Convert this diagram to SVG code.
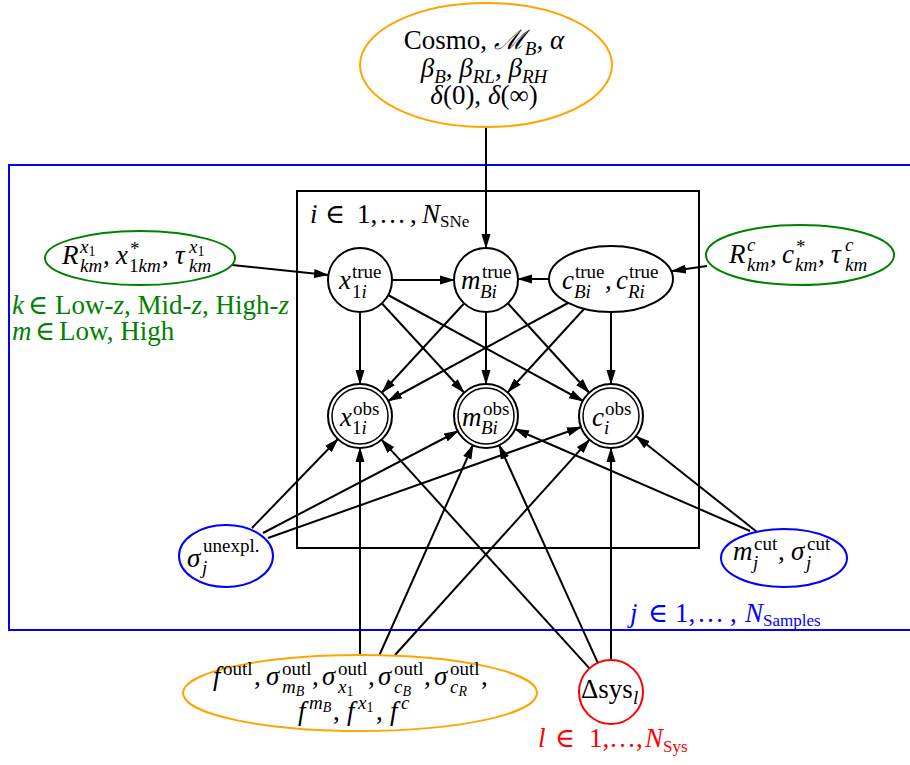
<svg xmlns="http://www.w3.org/2000/svg" width="910" height="765" viewBox="0 0 910 765">
<defs>
<style>
text{font-family:"Liberation Serif","DejaVu Serif",serif;font-size:27px;fill:#000}
.i{font-style:italic}
.s{font-size:19px}
.ss{font-size:14px}
.sp{font-size:17px}
.node{fill:#fff;stroke:#000;stroke-width:2}
.org{fill:#fff;stroke:#ffa500;stroke-width:2}
.grn{fill:#fff;stroke:#008000;stroke-width:2}
.blu{fill:#fff;stroke:#0000ff;stroke-width:2}
.red{fill:#fff;stroke:#ff0000;stroke-width:2}
.edge{stroke:#000;stroke-width:2;fill:none;marker-end:url(#arr)}
.g{fill:#008000}
.b{fill:#0000ff}
.r{fill:#ff0000}
</style>
<marker id="arr" markerWidth="15" markerHeight="10" refX="14" refY="5" orient="auto" markerUnits="userSpaceOnUse">
<path d="M0,0.5 L15,5 L0,9.5 z" fill="#000"/>
</marker>
</defs>
<rect width="910" height="765" fill="#fff"/>

<g id="plate-samples">
<rect x="9" y="165" width="1000" height="465" fill="none" stroke="#0000ff" stroke-width="2"/>
<text class="b" y="622"><tspan x="630" class="i">j</tspan><tspan x="648">∈</tspan><tspan x="675">1,</tspan><tspan x="697">…</tspan><tspan x="730">,</tspan><tspan x="745" class="i">N</tspan><tspan class="sp" dy="4">Samples</tspan></text>
</g>
<g id="plate-sne">
<rect x="297" y="191" width="402" height="357" fill="none" stroke="#000" stroke-width="2"/>
<text y="223"><tspan x="310" class="i">i</tspan><tspan x="325">∈</tspan><tspan x="357">1,</tspan><tspan x="379">…</tspan><tspan x="410">,</tspan><tspan x="422" class="i">N</tspan><tspan class="sp" dy="4">SNe</tspan></text>
</g>

<g id="edges">
<line class="edge" x1="486" y1="127" x2="486" y2="248"/>
<line class="edge" x1="232" y1="265" x2="328" y2="275"/>
<line class="edge" x1="707" y1="266" x2="672" y2="271"/>
<line class="edge" x1="392" y1="280" x2="454" y2="280"/>
<line class="edge" x1="549" y1="279" x2="518" y2="279"/>
<line class="edge" x1="360" y1="312" x2="360" y2="384"/>
<line class="edge" x1="382" y1="303.5" x2="464" y2="392.5"/>
<line class="edge" x1="388" y1="295" x2="583" y2="401"/>
<line class="edge" x1="464" y1="303.5" x2="382" y2="392.5"/>
<line class="edge" x1="486" y1="312" x2="486" y2="384"/>
<line class="edge" x1="508" y1="303.5" x2="589" y2="392.5"/>
<line class="edge" x1="568" y1="303" x2="388" y2="401"/>
<line class="edge" x1="584" y1="309" x2="508" y2="392"/>
<line class="edge" x1="611" y1="312" x2="611" y2="384"/>
<line class="edge" x1="252" y1="528" x2="338" y2="439"/>
<line class="edge" x1="263" y1="533" x2="458" y2="431"/>
<line class="edge" x1="268" y1="538" x2="581" y2="427"/>
<line class="edge" x1="750" y1="531" x2="515" y2="429"/>
<line class="edge" x1="757" y1="532" x2="636" y2="436"/>
<line class="edge" x1="360" y1="655" x2="360" y2="448"/>
<line class="edge" x1="379" y1="656" x2="473" y2="445"/>
<line class="edge" x1="395" y1="655" x2="589.5" y2="439.7"/>
<line class="edge" x1="589.5" y1="668.3" x2="381.5" y2="439.7"/>
<line class="edge" x1="597.8" y1="662.9" x2="499.2" y2="445.1"/>
<line class="edge" x1="611" y1="660" x2="611" y2="448"/>
</g>

<g id="cosmo">
<ellipse class="org" cx="486" cy="65" rx="126" ry="62"/>
<text x="484" y="49" text-anchor="middle">Cosmo, <tspan class="i">ℳ</tspan><tspan class="s i" dy="6">B</tspan><tspan dy="-6">, </tspan><tspan class="i">α</tspan></text>
<text x="484" y="77" text-anchor="middle"><tspan class="i">β</tspan><tspan class="s i" dy="6">B</tspan><tspan dy="-6">, </tspan><tspan class="i">β</tspan><tspan class="s i" dy="6">RL</tspan><tspan dy="-6">, </tspan><tspan class="i">β</tspan><tspan class="s i" dy="6">RH</tspan></text>
<text x="484" y="104" text-anchor="middle"><tspan class="i">δ</tspan>(0), <tspan class="i">δ</tspan>(∞)</text>
</g>

<g id="x1-params">
<ellipse class="grn" cx="140" cy="258" rx="95" ry="27"/>
<text class="i" x="62" y="264">R</text>
<text x="80" y="253"><tspan class="s i">x</tspan><tspan class="ss" dy="3">1</tspan></text>
<text class="s i" x="80" y="272">km</text>
<text x="103" y="264">,</text>
<text class="i" x="116" y="264">x</text>
<text class="s" x="130" y="255">*</text>
<text class="s" x="129" y="272">1<tspan class="i">km</tspan></text>
<text x="162" y="264">,</text>
<text class="i" x="175" y="264">τ</text>
<text x="189" y="253"><tspan class="s i">x</tspan><tspan class="ss" dy="3">1</tspan></text>
<text class="s i" x="189" y="272">km</text>
</g>

<g id="km-legend">
<text class="g" y="314"><tspan x="12" class="i">k</tspan><tspan x="28">∈</tspan><tspan x="55">Low-</tspan><tspan class="i">z</tspan><tspan>, Mid-</tspan><tspan class="i">z</tspan><tspan>, High-</tspan><tspan class="i">z</tspan></text>
<text class="g" y="340"><tspan x="12" class="i">m</tspan><tspan x="35">∈</tspan><tspan x="59">Low, High</tspan></text>
</g>

<g id="c-params">
<ellipse class="grn" cx="800" cy="255" rx="94" ry="30"/>
<text class="i" x="729" y="263">R</text>
<text class="s i" x="747" y="251">c</text>
<text class="s i" x="747" y="271">km</text>
<text x="770" y="263">,</text>
<text class="i" x="782" y="263">c</text>
<text class="s" x="796" y="253">*</text>
<text class="s i" x="795" y="271">km</text>
<text x="818" y="263">,</text>
<text class="i" x="831" y="263">τ</text>
<text class="s i" x="845" y="251">c</text>
<text class="s i" x="845" y="271">km</text>
</g>

<g id="x1-true">
<circle class="node" cx="360" cy="280" r="32"/>
<text class="i" x="339" y="289">x</text>
<text class="s" x="352" y="278">true</text>
<text class="s" x="352" y="298">1<tspan class="i">i</tspan></text>
</g>

<g id="mB-true">
<circle class="node" cx="486" cy="280" r="32"/>
<text class="i" x="461" y="289">m</text>
<text class="s" x="482" y="278">true</text>
<text class="s i" x="480" y="298">Bi</text>
</g>

<g id="c-true">
<ellipse class="node" cx="611" cy="279" rx="62" ry="33"/>
<text class="i" x="562" y="289">c</text>
<text class="s" x="575" y="278">true</text>
<text class="s i" x="574" y="298">Bi</text>
<text x="605" y="289">,</text>
<text class="i" x="616" y="289">c</text>
<text class="s" x="629" y="278">true</text>
<text class="s i" x="628" y="298">Ri</text>
</g>

<g id="x1-obs">
<circle class="node" cx="360" cy="416" r="32"/>
<circle cx="360" cy="416" r="28" fill="none" stroke="#000" stroke-width="1.5"/>
<text class="i" x="340" y="426">x</text>
<text class="s" x="353" y="415">obs</text>
<text class="s" x="352" y="434">1<tspan class="i">i</tspan></text>
</g>

<g id="mB-obs">
<circle class="node" cx="486" cy="416" r="32"/>
<circle cx="486" cy="416" r="28" fill="none" stroke="#000" stroke-width="1.5"/>
<text class="i" x="462" y="426">m</text>
<text class="s" x="483" y="415">obs</text>
<text class="s i" x="481" y="434">Bi</text>
</g>

<g id="c-obs">
<circle class="node" cx="611" cy="416" r="32"/>
<circle cx="611" cy="416" r="28" fill="none" stroke="#000" stroke-width="1.5"/>
<text class="i" x="592" y="426">c</text>
<text class="s" x="605" y="415">obs</text>
<text class="s i" x="604" y="434">i</text>
</g>

<g id="sigma-unexpl">
<ellipse class="blu" cx="226" cy="556" rx="47" ry="31"/>
<text class="i" x="187" y="567">σ</text>
<text class="s" x="203" y="552">unexpl.</text>
<text class="s i" x="202" y="574">j</text>
</g>

<g id="m-cut">
<ellipse class="blu" cx="784" cy="558" rx="63" ry="29"/>
<text class="i" x="733" y="560">m</text>
<text class="s" x="754" y="550">cut</text>
<text class="s i" x="753" y="569">j</text>
<text x="778" y="560">,</text>
<text class="i" x="791" y="560">σ</text>
<text class="s" x="807" y="550">cut</text>
<text class="s i" x="806" y="569">j</text>
</g>

<g id="outlier">
<ellipse class="org" cx="360" cy="693" rx="177" ry="38"/>
<text class="i" x="213" y="685">f</text>
<text class="s" x="223" y="675">outl</text>
<text x="254" y="685">,</text>
<text class="i" x="266" y="685">σ</text>
<text class="s" x="282" y="675">outl</text>
<text x="282" y="693"><tspan class="s i">m</tspan><tspan class="ss i" dy="3">B</tspan></text>
<text x="312" y="685">,</text>
<text class="i" x="322" y="685">σ</text>
<text class="s" x="338" y="675">outl</text>
<text x="338" y="693"><tspan class="s i">x</tspan><tspan class="ss" dy="3">1</tspan></text>
<text x="368" y="685">,</text>
<text class="i" x="378" y="685">σ</text>
<text class="s" x="394" y="675">outl</text>
<text x="394" y="693"><tspan class="s i">c</tspan><tspan class="ss i" dy="3">B</tspan></text>
<text x="424" y="685">,</text>
<text class="i" x="434" y="685">σ</text>
<text class="s" x="450" y="675">outl</text>
<text x="450" y="693"><tspan class="s i">c</tspan><tspan class="ss i" dy="3">R</tspan></text>
<text x="481" y="685">,</text>
<text class="i" x="298" y="720">f</text>
<text x="309" y="709"><tspan class="s i">m</tspan><tspan class="ss i" dy="3">B</tspan></text>
<text x="333" y="720">,</text>
<text class="i" x="347" y="720">f</text>
<text x="358" y="709"><tspan class="s i">x</tspan><tspan class="ss" dy="3">1</tspan></text>
<text x="376" y="720">,</text>
<text class="i" x="390" y="720">f</text>
<text class="s i" x="401" y="709">c</text>
</g>

<g id="delta-sys">
<circle class="red" cx="611" cy="692" r="32"/>
<text x="581" y="698">Δsys</text>
<text class="s i" x="633" y="704">l</text>
<text class="r" y="747"><tspan x="538" class="i">l</tspan><tspan x="555">∈</tspan><tspan x="589">1,</tspan><tspan x="609">…</tspan><tspan x="636">,</tspan><tspan x="645" class="i">N</tspan><tspan class="sp" dy="5">Sys</tspan></text>
</g>
</svg>
